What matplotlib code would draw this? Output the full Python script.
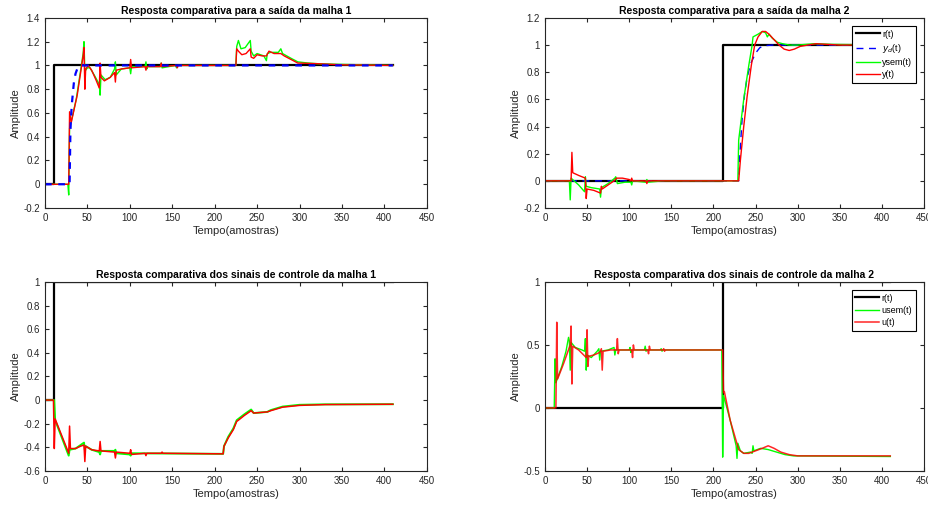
import numpy as np
import matplotlib
matplotlib.use("Agg")
import matplotlib.pyplot as plt
from matplotlib.ticker import FormatStrFormatter

plt.rcParams['font.family'] = ['Liberation Sans', 'DejaVu Sans']
plt.rcParams['axes.unicode_minus'] = False

# malha 1 - saida
t_r1 = [0, 11, 410]
r1 = [0, 1, 1]
t_yd1 = [0, 29, 30, 31, 32, 34, 36, 38, 40, 43, 410]
yd1 = [0, 0, 0.45, 0.6, 0.7, 0.85, 0.93, 0.97, 0.99, 1.0, 1.0]
t_ysem1 = [0, 27, 28, 29, 31, 37, 45, 46, 47, 50, 53, 58, 64, 65, 66, 71, 77, 82, 83, 84, 90, 100, 101, 102,
           118, 119, 120, 121, 136, 137, 138, 154, 155, 156, 225, 226, 228, 231, 236, 242, 243, 246, 250, 258,
           261, 262, 266, 275, 278, 280, 290, 298, 310, 320, 340, 410]
ysem1 = [0, 0, -0.09, 0.47, 0.53, 0.72, 1.1, 1.2, 0.95, 0.98, 0.98, 0.92, 0.84, 0.75, 0.92, 0.88, 0.9, 0.97,
         1.03, 0.92, 0.97, 0.98, 0.93, 0.99, 0.99, 1.03, 0.97, 0.99, 0.99, 1.02, 0.98, 1.0, 0.98, 1.0, 1.0,
         1.16, 1.21, 1.14, 1.15, 1.21, 1.12, 1.08, 1.1, 1.08, 1.04, 1.1, 1.11, 1.11, 1.14, 1.1, 1.06, 1.03,
         1.02, 1.015, 1.01, 1.0]
t_y1 = [0, 28, 29, 31, 38, 45, 46, 47, 48, 51, 55, 60, 64, 65, 66, 70, 77, 82, 83, 84, 90, 100, 101, 102,
        118, 119, 120, 136, 137, 138, 155, 156, 157, 225, 226, 228, 232, 237, 242, 243, 246, 250, 256, 261,
        264, 270, 278, 282, 290, 298, 320, 350, 410]
y1 = [0, 0, 0.61, 0.52, 0.75, 1.08, 1.15, 0.8, 0.97, 1.0, 0.96, 0.88, 0.81, 1.02, 0.9, 0.87, 0.9, 0.94,
      0.86, 0.96, 0.97, 0.98, 1.05, 0.98, 0.99, 0.96, 0.99, 0.99, 1.02, 0.99, 1.0, 0.98, 1.0, 1.0, 1.14,
      1.12, 1.09, 1.1, 1.14, 1.07, 1.06, 1.09, 1.08, 1.08, 1.12, 1.1, 1.1, 1.08, 1.05, 1.02, 1.015, 1.005, 1.0]

# malha 2 - saida
t_r2 = [0, 211, 410]
r2 = [0, 1, 1]
t_yd2 = [0, 230, 231, 234, 237, 240, 244, 247, 250, 255, 260, 270, 410]
yd2 = [0, 0, 0.15, 0.45, 0.64, 0.76, 0.86, 0.9, 0.94, 0.98, 0.995, 1.0, 1.0]
t_ysem2 = [0, 29, 30, 31, 40, 47, 48, 49, 55, 65, 66, 67, 75, 83, 84, 86, 95, 102, 103, 104, 120, 121, 122,
           140, 229, 230, 236, 242, 246, 247, 253, 258, 262, 264, 266, 270, 276, 282, 290, 300, 320, 340, 410]
ysem2 = [0, 0, -0.14, 0.02, -0.03, -0.08, 0.03, -0.04, -0.05, -0.06, -0.12, -0.05, -0.02, 0.02, 0.03, -0.02,
         -0.01, -0.01, -0.03, 0.0, -0.01, 0.01, -0.01, 0.0, 0.0, 0.3, 0.6, 0.85, 1.0, 1.06, 1.08, 1.1, 1.09,
         1.06, 1.08, 1.05, 1.02, 1.01, 1.0, 1.0, 1.01, 1.005, 1.0]
t_y2 = [0, 31, 32, 33, 40, 48, 49, 50, 58, 66, 67, 68, 75, 82, 85, 92, 100, 102, 103, 104, 120, 121, 122,
        230, 232, 236, 240, 245, 249, 253, 258, 262, 266, 272, 278, 284, 290, 296, 303, 312, 322, 335, 350, 410]
y2 = [0, 0, 0.21, 0.06, 0.04, 0.02, -0.13, -0.06, -0.07, -0.09, -0.04, -0.06, -0.03, 0.0, 0.02, 0.02, 0.01,
      0.0, 0.02, 0.0, 0.0, -0.02, 0.0, 0.0, 0.15, 0.4, 0.62, 0.85, 1.0, 1.06, 1.1, 1.1, 1.08, 1.04, 1.0,
      0.97, 0.96, 0.97, 0.99, 1.0, 1.01, 1.005, 1.0, 1.0]

# malha 1 - controle
t_r3 = [0, 11, 410]
r3 = [0, 1, 1]
t_usem3 = [0, 11, 12, 28, 29, 36, 46, 47, 48, 55, 64, 65, 66, 82, 83, 84, 100, 101, 102, 210, 211, 216, 222,
           226, 235, 243, 246, 262, 266, 280, 300, 330, 410]
usem3 = [0, 0, -0.17, -0.47, -0.42, -0.41, -0.36, -0.42, -0.39, -0.42, -0.44, -0.46, -0.43, -0.43, -0.42,
         -0.45, -0.46, -0.47, -0.45, -0.455, -0.39, -0.31, -0.24, -0.17, -0.12, -0.08, -0.11, -0.1, -0.085,
         -0.055, -0.04, -0.036, -0.035]
t_u3 = [0, 10, 11, 12, 28, 29, 30, 36, 42, 46, 47, 48, 55, 64, 65, 66, 82, 83, 84, 100, 101, 102, 118, 119,
        120, 137, 138, 139, 210, 211, 216, 222, 226, 228, 235, 243, 246, 262, 266, 280, 300, 330, 410]
u3 = [0, 0, -0.41, -0.16, -0.45, -0.22, -0.41, -0.41, -0.39, -0.38, -0.52, -0.39, -0.42, -0.43, -0.35, -0.43,
      -0.44, -0.49, -0.44, -0.45, -0.42, -0.46, -0.45, -0.47, -0.45, -0.45, -0.44, -0.45, -0.455, -0.39,
      -0.32, -0.25, -0.18, -0.17, -0.13, -0.09, -0.11, -0.1, -0.09, -0.06, -0.045, -0.038, -0.035]

# malha 2 - controle
t_r4 = [0, 211, 410]
r4 = [0, 1, 1]
t_usem4 = [0, 11, 12, 13, 20, 25, 28, 29, 30, 31, 36, 44, 47, 48, 49, 50, 55, 62, 64, 65, 66, 75, 82, 83, 84,
           100, 101, 102, 103, 118, 119, 120, 121, 137, 138, 139, 140, 210, 211, 212, 220, 227, 228, 229, 232,
           236, 244, 246, 247, 248, 256, 265, 275, 285, 295, 410]
usem4 = [0, 0, 0.39, 0.2, 0.33, 0.45, 0.56, 0.53, 0.3, 0.52, 0.48, 0.46, 0.45, 0.55, 0.3, 0.42, 0.4, 0.45,
         0.47, 0.38, 0.45, 0.46, 0.48, 0.42, 0.46, 0.46, 0.48, 0.44, 0.46, 0.46, 0.49, 0.45, 0.46, 0.46, 0.47,
         0.45, 0.46, 0.46, -0.39, 0.1, -0.1, -0.3, -0.4, -0.28, -0.34, -0.36, -0.35, -0.36, -0.3, -0.34, -0.32,
         -0.33, -0.35, -0.37, -0.38, -0.385]
t_u4 = [0, 13, 14, 15, 22, 30, 31, 32, 33, 40, 49, 50, 51, 52, 58, 65, 67, 68, 69, 78, 85, 86, 87, 88, 103,
        104, 105, 106, 122, 123, 124, 125, 140, 141, 142, 143, 211, 212, 213, 220, 230, 236, 242, 250, 258,
        265, 272, 280, 290, 300, 410]
u4 = [0, 0, 0.68, 0.23, 0.35, 0.5, 0.65, 0.19, 0.49, 0.46, 0.40, 0.62, 0.33, 0.41, 0.42, 0.44, 0.47, 0.3,
      0.45, 0.46, 0.46, 0.55, 0.43, 0.46, 0.46, 0.4, 0.5, 0.46, 0.46, 0.43, 0.49, 0.46, 0.46, 0.47, 0.45,
      0.46, 0.46, 0.12, 0.13, -0.1, -0.33, -0.36, -0.36, -0.34, -0.32, -0.30, -0.32, -0.35, -0.37, -0.38, -0.38]

AX_COLOR = '#262626'


def style_axis(ax, title, ylim, yticks):
    ax.set_xlim(0, 450)
    ax.set_xticks(np.arange(0, 451, 50))
    ax.set_ylim(*ylim)
    ax.set_yticks(np.round(yticks, 1))
    ax.yaxis.set_major_formatter(FormatStrFormatter('%g'))
    ax.tick_params(direction='in', top=True, right=True, labelsize=7, length=3,
                   colors=AX_COLOR, pad=3.5)
    for sp in ax.spines.values():
        sp.set_color(AX_COLOR)
        sp.set_linewidth(0.8)
    ax.set_title(title, fontsize=7.5, fontweight='bold', pad=3)
    ax.set_xlabel('Tempo(amostras)', fontsize=8, color=AX_COLOR, labelpad=2)
    ax.set_ylabel('Amplitude', fontsize=8, color=AX_COLOR, labelpad=2)


def add_legend(ax):
    leg = ax.legend(loc='upper right', fontsize=6.5, handlelength=2.6, labelspacing=0.35,
                    borderaxespad=0.9, borderpad=0.4, handletextpad=0.3, fancybox=False,
                    framealpha=1, edgecolor='black')
    leg.get_frame().set_linewidth(0.8)


fig = plt.figure(figsize=(9.29, 5.07), dpi=100)

ax1 = fig.add_axes([0.0484, 0.5897, 0.411, 0.375])
ax1.plot(t_r1, r1, color='black', lw=1.6, drawstyle='steps-post', label='r(t)')
ax1.plot(t_ysem1, ysem1, color='#00ff00', lw=1.0, label='ysem(t)')
ax1.plot(t_y1, y1, color='#ff0000', lw=1.0, label='y(t)')
ax1.plot(t_yd1, yd1, color='#0000ff', lw=1.6, ls=(0, (3, 3)), label='$y_d$(t)')
style_axis(ax1, 'Resposta comparativa para a saída da malha 1', (-0.2, 1.4), np.arange(-0.2, 1.41, 0.2))

ax2 = fig.add_axes([0.5866, 0.5897, 0.408, 0.375])
ax2.plot(t_r2, r2, color='black', lw=1.6, drawstyle='steps-post', label='r(t)')
ax2.plot(t_yd2, yd2, color='#0000ff', lw=1.0, ls=(0, (5, 4)), label='$y_d$(t)')
ax2.plot(t_ysem2, ysem2, color='#00ff00', lw=1.0, label='ysem(t)')
ax2.plot(t_y2, y2, color='#ff0000', lw=1.0, label='y(t)')
style_axis(ax2, 'Resposta comparativa para a saída da malha 2', (-0.2, 1.2), np.arange(-0.2, 1.21, 0.2))
add_legend(ax2)

ax3 = fig.add_axes([0.0484, 0.071, 0.411, 0.373])
ax3.plot(t_r3, r3, color='black', lw=1.6, drawstyle='steps-post', label='r(t)')
ax3.plot(t_usem3, usem3, color='#00ff00', lw=1.4, label='usem(t)')
ax3.plot(t_u3, u3, color='#ff0000', lw=1.1, label='u(t)')
style_axis(ax3, 'Resposta comparativa dos sinais de controle da malha 1', (-0.6, 1.0), np.arange(-0.6, 1.01, 0.2))

ax4 = fig.add_axes([0.5866, 0.071, 0.408, 0.373])
ax4.plot(t_r4, r4, color='black', lw=1.6, drawstyle='steps-post', label='r(t)')
ax4.plot(t_usem4, usem4, color='#00ff00', lw=1.0, label='usem(t)')
ax4.plot(t_u4, u4, color='#ff0000', lw=1.1, alpha=0.85, label='u(t)')
style_axis(ax4, 'Resposta comparativa dos sinais de controle da malha 2', (-0.5, 1.0), [-0.5, 0, 0.5, 1])
add_legend(ax4)

fig.savefig('out.png', dpi=100)
